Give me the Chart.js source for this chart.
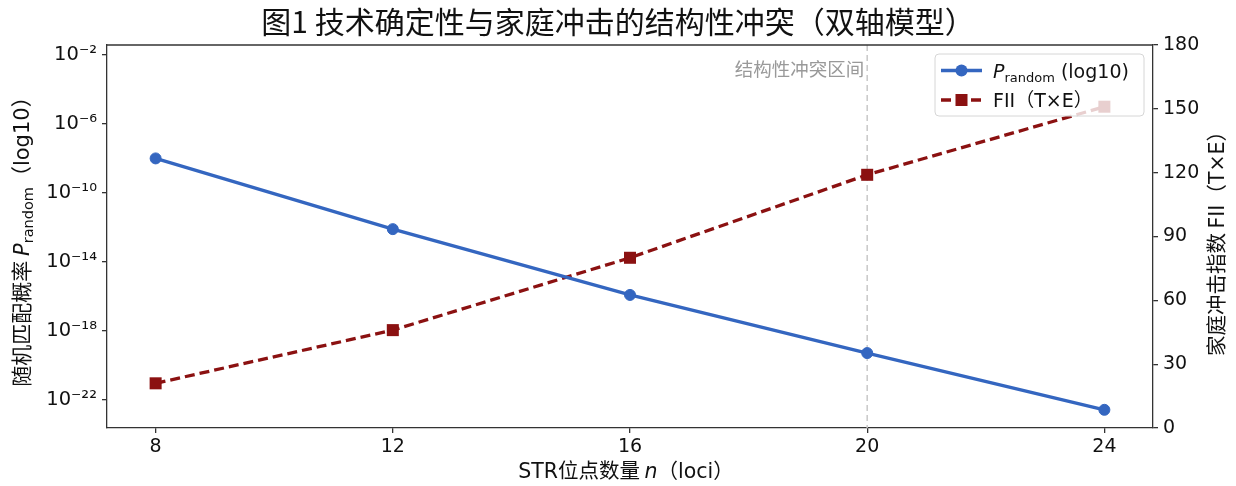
<!DOCTYPE html>
<html>
<head>
<meta charset="utf-8">
<script src="https://cdn.jsdelivr.net/npm/chart.js@4"></script>
<style>
  html, body { margin: 0; padding: 0; background: #fff; }
  #wrap { width: 1236px; height: 486px; }
</style>
</head>
<body>
<div id="wrap"><canvas id="c" width="1236" height="486"></canvas></div>
<script>
// ---- data ----
const loci = [8, 12, 16, 20, 24];
const pRandom = [1e-8, 7.9e-13, 1.2e-16, 5.1e-20, 2.6e-23];
const fii = [21, 46, 80, 119, 151];
const leftTickExponents = [-22, -18, -14, -10, -6, -2];
const rightTicks = [0, 30, 60, 90, 120, 150, 180];
const xTicks = [8, 12, 16, 20, 24];
const conflictX = 20;

const BLUE = '#3466c0';
const RED = '#8b1111';
const FONT = "'DejaVu Sans', 'Noto Sans CJK SC', sans-serif";
const CJK = "'Noto Sans CJK SC', 'DejaVu Sans', sans-serif";
const CJK_TITLE = "'Noto Sans CJK TC', 'Noto Sans CJK SC', sans-serif";

const SUP = {'-':'⁻','0':'⁰','1':'¹','2':'²','3':'³','4':'⁴','5':'⁵','6':'⁶','7':'⁷','8':'⁸','9':'⁹'};
function sup(n){ return String(n).split('').map(c => SUP[c] || c).join(''); }

function richWidth(ctx, segs){
  let w = 0;
  for (const s of segs){ ctx.font = s.font; w += ctx.measureText(s.text).width; }
  return w;
}
function drawRich(ctx, segs, x, y, align){
  const w = richWidth(ctx, segs);
  let cx = align === 'center' ? x - w/2 : (align === 'right' ? x - w : x);
  ctx.textBaseline = 'alphabetic';
  ctx.textAlign = 'left';
  for (const s of segs){
    ctx.font = s.font;
    ctx.fillText(s.text, cx, y + (s.dy || 0));
    cx += ctx.measureText(s.text).width;
  }
}

const deco = {
  id: 'deco',
  beforeDatasetsDraw(chart){
    const ctx = chart.ctx, a = chart.chartArea;
    const xs = chart.scales.x;
    const px = xs.getPixelForValue(conflictX);
    ctx.save();
    ctx.strokeStyle = '#c8c8c8';
    ctx.lineWidth = 1.5;
    ctx.setLineDash([6, 4]);
    ctx.beginPath();
    ctx.moveTo(px, a.top); ctx.lineTo(px, a.bottom);
    ctx.stroke();
    ctx.setLineDash([]);
    ctx.fillStyle = '#999999';
    ctx.font = "18.5px " + CJK;
    ctx.textAlign = 'right';
    ctx.textBaseline = 'middle';
    ctx.fillText('结构性冲突区间', px - 3, a.top + 24);
    ctx.restore();
  },
  afterDatasetsDraw(chart){
    const ctx = chart.ctx, a = chart.chartArea;
    ctx.save();
    // top spine
    ctx.strokeStyle = '#333';
    ctx.lineWidth = 1.3;
    ctx.beginPath();
    ctx.moveTo(a.left, a.top); ctx.lineTo(a.right, a.top);
    ctx.stroke();

    // legend
    const bx = a.right - 218, by = a.top + 9, bw = 209, bh = 62;
    ctx.fillStyle = 'rgba(255,255,255,0.8)';
    ctx.strokeStyle = '#d6d6d6';
    ctx.lineWidth = 1;
    ctx.beginPath();
    ctx.roundRect(bx, by, bw, bh, 4);
    ctx.fill(); ctx.stroke();

    const ds = chart.data.datasets;
    const r1 = by + 16.5, r2 = by + 46;
    const lx0 = bx + 6, lx1 = bx + 47, lmid = (lx0 + lx1) / 2;
    // blue entry
    ctx.strokeStyle = ds[0].borderColor; ctx.lineWidth = 3.3;
    ctx.beginPath(); ctx.moveTo(lx0, r1); ctx.lineTo(lx1, r1); ctx.stroke();
    ctx.fillStyle = ds[0].borderColor;
    ctx.beginPath(); ctx.arc(lmid, r1, 6, 0, Math.PI*2); ctx.fill();
    // red entry
    ctx.strokeStyle = ds[1].borderColor; ctx.setLineDash(ds[1].borderDash);
    ctx.beginPath(); ctx.moveTo(lx0, r2); ctx.lineTo(lx1, r2); ctx.stroke();
    ctx.setLineDash([]);
    ctx.fillStyle = ds[1].borderColor;
    ctx.fillRect(lmid - 6, r2 - 6, 12, 12);

    ctx.fillStyle = '#111';
    drawRich(ctx, [
      {text: 'P', font: 'italic 19px ' + FONT},
      {text: 'random', font: '13px ' + FONT, dy: 4},
      {text: ' (log10)', font: '19px ' + FONT}
    ], bx + 58, r1 + 7, 'left');
    drawRich(ctx, [
      {text: 'FII', font: '19px ' + FONT},
      {text: '（', font: '19px ' + CJK},
      {text: 'T×E', font: '19px ' + FONT},
      {text: '）', font: '19px ' + CJK}
    ], bx + 58, r2 + 7, 'left');

    // x-axis title
    drawRich(ctx, [
      {text: 'STR', font: '20.5px ' + FONT},
      {text: '位点数量 ', font: '20.5px ' + CJK},
      {text: 'n', font: 'italic 20.5px ' + FONT},
      {text: '（', font: '20.5px ' + CJK},
      {text: 'loci', font: '20.5px ' + FONT},
      {text: '）', font: '20.5px ' + CJK}
    ], (a.left + a.right) / 2 - 4, 478, 'center');

    // left y title
    ctx.save();
    ctx.translate(29, (a.top + a.bottom) / 2);
    ctx.rotate(-Math.PI / 2);
    drawRich(ctx, [
      {text: '随机匹配概率 ', font: '21px ' + CJK},
      {text: 'P', font: 'italic 21px ' + FONT},
      {text: 'random', font: '14.5px ' + FONT, dy: 4},
      {text: '（', font: '21px ' + CJK},
      {text: 'log10', font: '21px ' + FONT},
      {text: '）', font: '21px ' + CJK}
    ], 0, 0, 'center');
    ctx.restore();

    // right y title
    ctx.save();
    ctx.translate(1224, (a.top + a.bottom) / 2 + 2);
    ctx.rotate(-Math.PI / 2);
    drawRich(ctx, [
      {text: '家庭冲击指数 ', font: '20.5px ' + CJK},
      {text: 'FII', font: '20.5px ' + FONT},
      {text: '（', font: '20.5px ' + CJK},
      {text: 'T×E', font: '20.5px ' + FONT},
      {text: '）', font: '20.5px ' + CJK}
    ], 0, 0, 'center');
    ctx.restore();

    ctx.restore();
  }
};

const chart = new Chart(document.getElementById('c'), {
  type: 'line',
  data: {
    datasets: [
      {
        label: 'P_random (log10)',
        data: loci.map((x, i) => ({x, y: pRandom[i]})),
        yAxisID: 'yL',
        borderColor: BLUE, backgroundColor: BLUE,
        borderWidth: 3.3,
        pointStyle: 'circle', pointRadius: 5.5, pointBorderWidth: 1,
        pointBackgroundColor: BLUE, pointBorderColor: BLUE,
        tension: 0
      },
      {
        label: 'FII（T×E）',
        data: loci.map((x, i) => ({x, y: fii[i]})),
        yAxisID: 'yR',
        borderColor: RED, backgroundColor: RED,
        borderWidth: 3.3, borderDash: [10, 5],
        pointStyle: 'rect', pointRadius: 8.5, pointBorderWidth: 0,
        pointBackgroundColor: RED, pointBorderColor: RED,
        tension: 0
      }
    ]
  },
  options: {
    responsive: false,
    animation: false,
    devicePixelRatio: 1,
    layout: { padding: 0 },
    plugins: {
      legend: { display: false },
      tooltip: { enabled: false },
      title: {
        display: true,
        text: '图1 技术确定性与家庭冲击的结构性冲突（双轴模型）',
        color: '#111',
        font: { family: CJK_TITLE, size: 30, weight: 'normal', lineHeight: 1.2 },
        padding: { top: 4, bottom: 5 }
      }
    },
    scales: {
      x: {
        type: 'linear', position: 'bottom',
        min: 7.18, max: 24.82,
        afterBuildTicks: s => { s.ticks = xTicks.map(v => ({value: v})); },
        afterFit: s => { s.height = 58; },
        grid: { display: true, drawOnChartArea: false, drawTicks: true, tickLength: 5, color: '#333', lineWidth: 1.3 },
        border: { display: true, color: '#333', width: 1.3 },
        ticks: { color: '#111', font: { family: FONT, size: 19 }, padding: 3, maxRotation: 0 }
      },
      yL: {
        type: 'logarithmic', position: 'left',
        min: Math.pow(10, -23.64), max: Math.pow(10, -1.42),
        afterBuildTicks: s => { s.ticks = leftTickExponents.map(e => ({value: Math.pow(10, e)})); },
        afterFit: s => { s.width = 107; },
        grid: { display: true, drawOnChartArea: false, drawTicks: true, tickLength: 5, color: '#333', lineWidth: 1.3 },
        border: { display: true, color: '#333', width: 1.3 },
        ticks: {
          color: '#111', font: { family: FONT, size: 19.5 }, padding: 5,
          callback: v => '10' + sup(Math.round(Math.log10(v)))
        }
      },
      yR: {
        type: 'linear', position: 'right',
        min: 0, max: 180,
        afterBuildTicks: s => { s.ticks = rightTicks.map(v => ({value: v})); },
        afterFit: s => { s.width = 83; },
        grid: { display: true, drawOnChartArea: false, drawTicks: true, tickLength: 5, color: '#333', lineWidth: 1.3 },
        border: { display: true, color: '#333', width: 1.3 },
        ticks: { color: '#111', font: { family: FONT, size: 19 }, padding: 5 }
      }
    }
  },
  plugins: [deco]
});
</script>
</body>
</html>
